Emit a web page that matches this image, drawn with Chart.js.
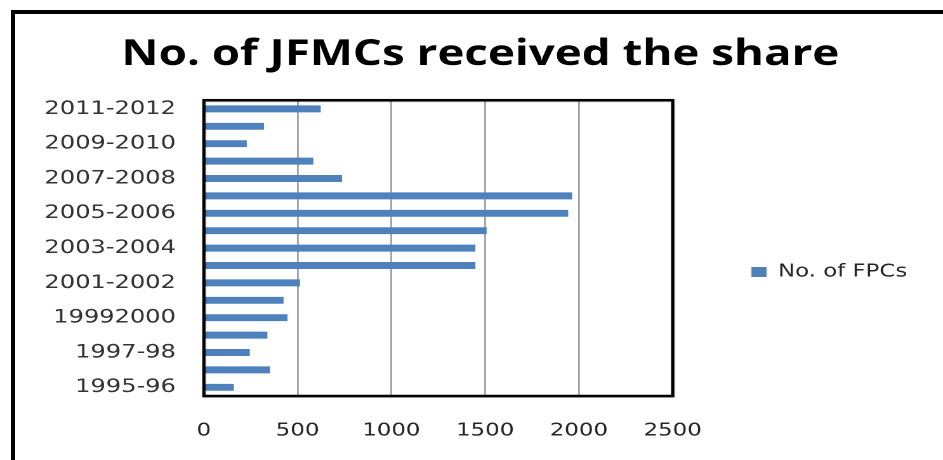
<!DOCTYPE html>
<html>
<head>
<meta charset="utf-8">
<script src="https://cdn.jsdelivr.net/npm/chart.js@4/dist/chart.umd.min.js"></script>
<style>
  html, body { margin: 0; padding: 0; background: #ffffff; width: 943px; height: 460px; overflow: hidden; }
  #frame { position: absolute; left: 11px; top: 10px; right: 0; bottom: 0; border-left: 4px solid #000; border-top: 4px solid #000; }
  #wrap { position: absolute; left: 0; top: 0; width: 743px; height: 460px; transform: scaleX(1.26918); transform-origin: 0 0; }
</style>
</head>
<body>
<div id="frame"></div>
<div id="wrap"><canvas id="c"></canvas></div>
<script>
const chartTitle = 'No. of JFMCs received the share';
const seriesName = 'No. of FPCs';
const categories = ['1995-96', '1996-97', '1997-98', '1998-99', '19992000', '2000-2001', '2001-2002', '2002-2003', '2003-2004', '2004-2005', '2005-2006', '2006-2007', '2007-2008', '2008-2009', '2009-2010', '2010-2011', '2011-2012'];
const values = [160, 353, 245, 339, 446, 425, 513, 1448, 1448, 1508, 1943, 1964, 737, 584, 229, 321, 623];
const xTicks = [0, 500, 1000, 1500, 2000, 2500];

const plotBox = {
  id: 'plotBox',
  afterLayout(chart) {
    // move the legend a little further right, as in the original
    if (chart.legend) { chart.legend.left += 14; chart.legend.right += 14; }
  },
  afterDatasetsDraw(chart) {
    const { ctx, chartArea: a } = chart;
    ctx.save();
    ctx.shadowColor = 'rgba(0,0,0,0.35)';
    ctx.shadowOffsetX = 1;
    ctx.shadowOffsetY = 1;
    ctx.shadowBlur = 2;
    ctx.lineWidth = 2.5;
    ctx.strokeStyle = '#000';
    ctx.strokeRect(a.left, a.top, a.right - a.left, a.bottom - a.top);
    ctx.restore();
  }
};

new Chart(document.getElementById('c'), {
  type: 'bar',
  data: {
    labels: categories,
    datasets: [{
      label: seriesName,
      data: values,
      backgroundColor: '#4F81BD',
      borderWidth: 0,
      barPercentage: 0.4,
      categoryPercentage: 1.0
    }]
  },
  options: {
    indexAxis: 'y',
    responsive: true,
    maintainAspectRatio: false,
    animation: false,
    devicePixelRatio: 2,
    layout: { padding: { left: 14, right: 0, top: 0, bottom: 18 } },
    plugins: {
      title: {
        display: true,
        text: chartTitle,
        color: '#000',
        font: { family: 'Open Sans', weight: 'bold', size: 36, lineHeight: 1.2 },
        padding: { top: 33, bottom: 24 }
      },
      legend: {
        position: 'right',
        title: { display: true, text: ' ', font: { size: 10, lineHeight: 1.2 }, padding: { top: 90, bottom: 0 } },
        labels: {
          boxWidth: 12,
          boxHeight: 10,
          padding: 48,
          color: '#262626',
          font: { family: 'DejaVu Sans', size: 18 }
        }
      },
      tooltip: { enabled: false }
    },
    scales: {
      x: {
        min: xTicks[0],
        max: xTicks[xTicks.length - 1],
        afterBuildTicks(scale) { scale.ticks = xTicks.map(v => ({ value: v })); },
        afterFit(scale) { scale.height = 46; scale.paddingRight = 213; },
        grid: { color: '#a0a0a0', lineWidth: 1.4, drawTicks: false },
        border: { display: false },
        ticks: {
          padding: 24,
          color: '#262626',
          font: { family: 'DejaVu Sans', size: 18, lineHeight: 1.2 },
          callback(value) { return String(value); }
        }
      },
      y: {
        reverse: true,
        afterFit(scale) { scale.width = 146.6; },
        grid: { display: false, drawTicks: false },
        border: { display: false },
        ticks: {
          autoSkip: false,
          padding: 22,
          color: '#333333',
          font: { family: 'DejaVu Sans', size: 19 },
          callback(value, index) { return index % 2 === 0 ? categories[index] : ''; }
        }
      }
    }
  },
  plugins: [plotBox]
});
</script>
</body>
</html>
